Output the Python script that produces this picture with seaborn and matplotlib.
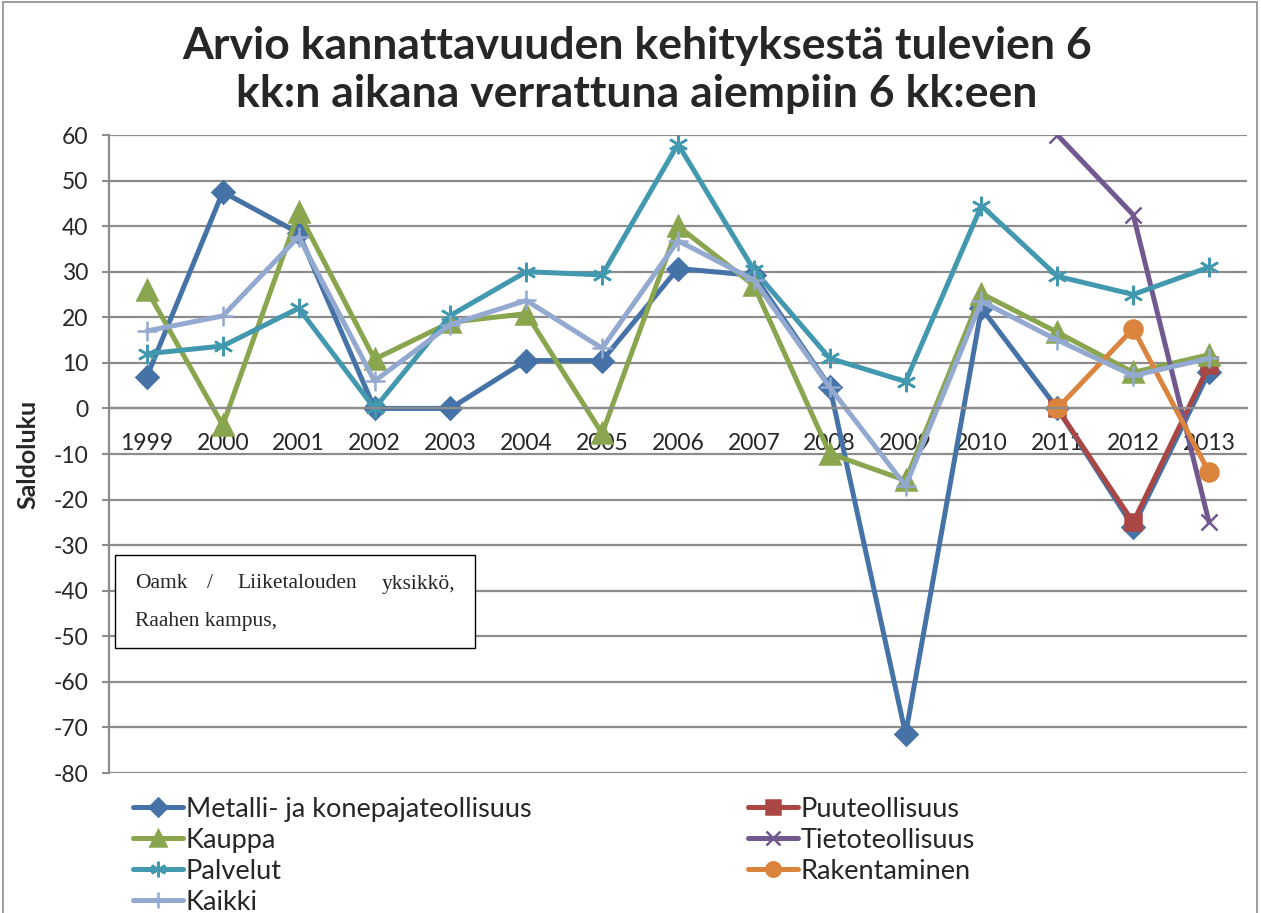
import numpy as np
import pandas as pd
import matplotlib.pyplot as plt
import seaborn as sns
from matplotlib.patches import Rectangle
from matplotlib.ticker import FixedLocator

# data
years = list(range(1999, 2014))
metalli = [7, 47.5, 38.5, 0, 0, 10.5, 10.5, 30.7, 29.2, 4.8, -71.5, 22, 0, -26, 8]
puu = [np.nan] * 12 + [0, -25, 9.5]
kauppa = [26, -3.7, 43, 10.8, 18.9, 20.8, -5.5, 40, 27, -9.9, -15.8, 25.2, 16.7, 7.9, 11.8]
tieto = [np.nan] * 12 + [60, 42.5, -25]
palvelut = [12, 13.7, 22, 0, 20.4, 30, 29.3, 58, 30.4, 11, 5.9, 44.5, 29, 25, 31]
rakentaminen = [np.nan] * 12 + [0, 17.5, -14]
kaikki = [17, 20.3, 37.7, 6, 18.4, 23.7, 13.2, 36.8, 28.2, 4.6, -17, 23.5, 15, 7.2, 11]

series = ['Metalli- ja konepajateollisuus', 'Puuteollisuus', 'Kauppa', 'Tietoteollisuus',
          'Palvelut', 'Rakentaminen', 'Kaikki']
values = [metalli, puu, kauppa, tieto, palvelut, rakentaminen, kaikki]
colors = ['#4572A7', '#AA4643', '#89A54E', '#71588F', '#4198AF', '#DB843D', '#93A9CF']
markers = ['D', 's', '^', 'x', (6, 2, 0), 'o', '+']
msizes = [11, 12, 14, 12, 14, 13, 14]

sns.set_style('white')
plt.rcParams['font.family'] = ['Lato', 'DejaVu Sans']
plt.rcParams['axes.unicode_minus'] = False

fig = plt.figure(figsize=(12.61, 9.13), dpi=100)
ax = fig.add_axes([109 / 1261, 1 - 773 / 913, (1247 - 109) / 1261, (773 - 135) / 913])

for name, vals, c, m, ms in zip(series, values, colors, markers, msizes):
    df = pd.DataFrame({'vuosi': years, 'saldo': vals})
    sns.lineplot(data=df, x='vuosi', y='saldo', ax=ax, color=c, marker=m,
                 markersize=ms, linewidth=3.6, label=name)

for line in ax.get_lines():
    line.set_markeredgecolor(line.get_color())
    line.set_markeredgewidth(1.8)

ax.set_xlim(1998.5, 2013.5)
ax.set_ylim(-80, 60)
ax.set_yticks(range(-80, 61, 10))
ax.set_xticks(years)
ax.set_xticklabels([str(y) for y in years])
ax.xaxis.set_minor_locator(FixedLocator([y + 0.5 for y in range(1998, 2014)]))
ax.grid(axis='y', color='#8c8c8c', linewidth=1.6)
ax.set_axisbelow(True)

for s in ['top', 'right']:
    ax.spines[s].set_visible(False)
ax.spines['bottom'].set_position(('data', 0))
ax.spines['bottom'].set_color('#8c8c8c')
ax.spines['bottom'].set_linewidth(1.6)
ax.spines['left'].set_color('#8c8c8c')
ax.spines['left'].set_linewidth(1.6)

ax.tick_params(axis='x', which='major', length=0, pad=18, labelsize=16.5)
ax.tick_params(axis='x', which='minor', length=7, width=1.5, color='#8c8c8c', direction='out')
ax.tick_params(axis='y', length=5, width=1.5, color='#8c8c8c', pad=10, labelsize=16.5, left=True)

ax.set_xlabel('')
ax.set_ylabel('Saldoluku', fontsize=18, fontweight='bold')
ax.yaxis.set_label_coords(-0.061, 0.5)

fig.suptitle('Arvio kannattavuuden kehityksestä tulevien 6\nkk:n aikana verrattuna aiempiin 6 kk:een',
             fontsize=32, fontweight='bold', x=0.505, y=0.972, linespacing=1.25)

# legend: row-major order like the original
h, l = ax.get_legend_handles_labels()
order = [0, 2, 4, 6, 1, 3, 5]
ax.legend([h[i] for i in order], [l[i] for i in order], ncol=2, frameon=False,
          loc='upper left', bbox_to_anchor=(122 / 1261, 1 - 786 / 913),
          bbox_transform=fig.transFigure, fontsize=19.5, handlelength=1.85,
          handletextpad=0.1, columnspacing=8.0, labelspacing=0.22, borderaxespad=0,
          markerscale=0.8)

# source text box
fig.patches.append(Rectangle((115 / 1261, 1 - 648 / 913), 360 / 1261, 93 / 913,
                             transform=fig.transFigure, facecolor='white',
                             edgecolor='black', linewidth=1, zorder=5))
serif = dict(family='Liberation Serif', fontsize=15.5, va='center', zorder=6)
fig.text(135 / 1261, 1 - 584 / 913, 'Oamk', ha='left', **serif)
fig.text(210 / 1261, 1 - 584 / 913, '/', ha='center', **serif)
fig.text(237 / 1261, 1 - 584 / 913, 'Liiketalouden', ha='left', **serif)
fig.text(455 / 1261, 1 - 584 / 913, 'yksikkö,', ha='right', **serif)
fig.text(135 / 1261, 1 - 621 / 913, 'Raahen kampus,', ha='left', **serif)

# outer chart frame
fig.patches.append(Rectangle((3 / 1261, -0.05), 1254 / 1261, 1.048,
                             transform=fig.transFigure, fill=False,
                             edgecolor='#8c8c8c', linewidth=1.2))

fig.savefig('out.png', dpi=100)
